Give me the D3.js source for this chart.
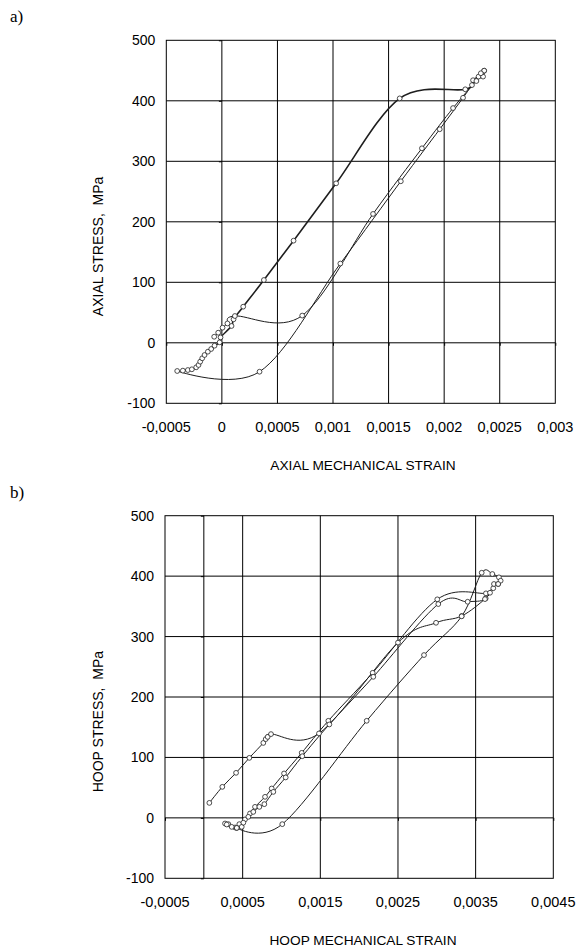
<!DOCTYPE html>
<html>
<head>
<meta charset="utf-8">
<script src="https://cdn.jsdelivr.net/npm/d3@7"></script>
<style>
  body { margin: 0; background: #fff; }
  svg { display: block; font-family: "Liberation Sans", Arial, sans-serif; }
</style>
</head>
<body>
<svg id="chart" width="583" height="950"></svg>
<script>
// ---- data (strain, stress MPa) ----
var stressTicks = [-100, 0, 100, 200, 300, 400, 500];

var axialTicksX = [-0.0005, 0, 0.0005, 0.001, 0.0015, 0.002, 0.0025, 0.003];
var axialGridX = [0, 0.0005, 0.001, 0.0015, 0.002, 0.0025];

// loading up the left branch, hold, top
var axialLoad = [
  [-0.000351, -46.0], [-0.000306, -45.0], [-0.00027, -43.8], [-0.000231, -40.5],
  [-0.00021, -36.7], [-0.000195, -31.2], [-0.000177, -25.6], [-0.000156, -20.2],
  [-0.000126, -14.7], [-0.000096, -10.2], [-0.000066, -4.8], [-0.00002, 0.8],
  [-0.000012, 9], [0.000087, 27.8], [0.000105, 38.8], [0.000192, 59.7],
  [0.000378, 103.8], [0.000645, 168.8], [0.001028, 263.6], [0.0016, 404],
  [0.00219, 419], [0.00226, 434], [0.00231, 440], [0.00236, 449.8]
];
// unloading down the right branch and back to the origin
var axialUnload = [
  [0.00236, 449.8], [0.00235, 440], [0.00229, 432.7], [0.00208, 388],
  [0.0018, 321.5], [0.00136, 213], [0.000723, 45], [0.000117, 44.3],
  [0.00005, 32], [0.000006, 25], [-0.000033, 16.7], [-0.000069, 10]
];
// compression end and reloading
var axialReload = [
  [-0.000402, -46.6], [0.000339, -47.8], [0.001066, 131], [0.00161, 267],
  [0.00196, 353], [0.00217, 405], [0.00225, 426], [0.00233, 445.5]
];

var hoopTicksX = [-0.0005, 0.0005, 0.0015, 0.0025, 0.0035, 0.0045];
var hoopGridX = [0, 0.0005, 0.0015, 0.0025, 0.0035];

var hoopStart = [
  [0.000071, 24.8], [0.000238, 51.3], [0.000415, 74.5], [0.000586, 99.3],
  [0.000766, 124], [0.000797, 130.3], [0.000822, 134], [0.000865, 138.6],
  [0.001483, 139.7], [0.0025, 290], [0.00299, 322.8], [0.00332, 334],
  [0.003629, 363.2], [0.003727, 380]
];
var hoopUpper = [
  [0.000273, -9.3], [0.000316, -10.4], [0.000402, -15.9], [0.000457, -10.4],
  [0.00053, -2.6], [0.000595, 7.3], [0.000659, 18.2], [0.000788, 34.8],
  [0.000874, 48.6], [0.001033, 73.5], [0.00126, 107.6], [0.001603, 160.6],
  [0.002174, 240], [0.003006, 361.6], [0.003633, 371.5], [0.003685, 372.5]
];
var hoopLower = [
  [0.000295, -11], [0.000359, -14.9], [0.000424, -16.6], [0.000488, -14.9],
  [0.000509, -8], [0.000573, 1.7], [0.000637, 9.9], [0.000715, 18.2],
  [0.000779, 22.7], [0.000895, 43], [0.001054, 66.9], [0.001268, 102],
  [0.001616, 154.6], [0.002182, 233.4], [0.003019, 353.8], [0.003397, 357.6],
  [0.00362, 362], [0.003736, 387], [0.00379, 387]
];
var hoopRight = [
  [0.000424, -16.6], [0.00101, -10.4], [0.002097, 160.6], [0.002835, 269.4],
  [0.00332, 333.5], [0.003578, 405.6], [0.003715, 403.5], [0.0038, 398],
  [0.003822, 392.4], [0.00379, 387]
];

var svg = d3.select("#chart");

function fmtStrain(v) {
  return String(+v.toFixed(4)).replace(".", ",");
}

function drawPanel(cfg) {
  var x = d3.scaleLinear().domain(cfg.xDomain).range([cfg.left, cfg.right]);
  var y = d3.scaleLinear().domain([-100, 500]).range([cfg.bottom, cfg.top]);
  var g = svg.append("g");

  g.append("text")
    .attr("x", 10)
    .attr("y", cfg.labelY)
    .attr("font-family", "'Liberation Serif', 'Times New Roman', serif")
    .attr("font-size", "17px")
    .text(cfg.label);

  // grid
  g.selectAll(".vgrid")
    .data(cfg.gridX)
    .enter()
    .append("line")
    .attr("x1", function (d) { return x(d); })
    .attr("x2", function (d) { return x(d); })
    .attr("y1", cfg.top)
    .attr("y2", cfg.bottom)
    .attr("stroke", "#000")
    .attr("stroke-width", 1);
  g.selectAll(".hgrid")
    .data(stressTicks.slice(1, -1))
    .enter()
    .append("line")
    .attr("x1", cfg.left)
    .attr("x2", cfg.right)
    .attr("y1", function (d) { return y(d); })
    .attr("y2", function (d) { return y(d); })
    .attr("stroke", "#000")
    .attr("stroke-width", 1);
  g.append("rect")
    .attr("x", cfg.left)
    .attr("y", cfg.top)
    .attr("width", cfg.right - cfg.left)
    .attr("height", cfg.bottom - cfg.top)
    .attr("fill", "none")
    .attr("stroke", "#000")
    .attr("stroke-width", 1);

  // small tick marks on the zero axes
  g.append("g")
    .attr("transform", "translate(0," + y(0) + ")")
    .call(d3.axisBottom(x).tickValues(cfg.ticksX).tickSize(3).tickFormat(""))
    .call(function (a) { a.select(".domain").remove(); });
  g.append("g")
    .attr("transform", "translate(" + x(0) + ",0)")
    .call(d3.axisLeft(y).tickValues(stressTicks).tickSize(3).tickFormat(""))
    .call(function (a) { a.select(".domain").remove(); });

  // tick labels
  g.selectAll(".ylab")
    .data(stressTicks)
    .enter()
    .append("text")
    .attr("x", cfg.left - 11)
    .attr("y", function (d) { return y(d) + 5; })
    .attr("text-anchor", "end")
    .attr("font-size", "14px")
    .text(function (d) { return String(d); });
  g.selectAll(".xlab")
    .data(cfg.ticksX)
    .enter()
    .append("text")
    .attr("x", function (d) { return x(d); })
    .attr("y", cfg.bottom + 29)
    .attr("text-anchor", "middle")
    .attr("font-size", "14.5px")
    .text(fmtStrain);

  // axis titles
  g.append("text")
    .attr("x", 363)
    .attr("y", cfg.bottom + 66.7)
    .attr("text-anchor", "middle")
    .attr("font-size", "13.7px")
    .text(cfg.xTitle);
  g.append("text")
    .attr("transform", "translate(103," + ((cfg.top + cfg.bottom) / 2 + 24.6) + ") rotate(-90)")
    .attr("text-anchor", "middle")
    .attr("font-size", "14px")
    .style("white-space", "pre")
    .text(cfg.yTitle);

  // curves
  var line = d3.line()
    .x(function (d) { return x(d[0]); })
    .y(function (d) { return y(d[1]); })
    .curve(d3.curveCardinal.tension(0));
  cfg.series.forEach(function (s, i) {
    g.append("path")
      .datum(s)
      .attr("d", line)
      .attr("fill", "none")
      .attr("stroke", "#1e1e1e")
      .attr("stroke-width", cfg.widths[i]);
  });
  cfg.series.forEach(function (s) {
    g.append("g")
      .selectAll("circle")
      .data(s)
      .enter()
      .append("circle")
      .attr("cx", function (d) { return x(d[0]); })
      .attr("cy", function (d) { return y(d[1]); })
      .attr("r", 2.4)
      .attr("fill", "#fff")
      .attr("stroke", "#222")
      .attr("stroke-width", 0.8);
  });
}

drawPanel({
  label: "a)",
  labelY: 22,
  left: 166.3,
  right: 555.3,
  top: 40.3,
  bottom: 403.3,
  xDomain: [-0.0005, 0.003],
  ticksX: axialTicksX,
  gridX: axialGridX,
  xTitle: "AXIAL MECHANICAL STRAIN",
  yTitle: "AXIAL STRESS,  MPa",
  series: [axialLoad, axialUnload, axialReload],
  widths: [1.6, 1, 1]
});

drawPanel({
  label: "b)",
  labelY: 498,
  left: 165,
  right: 553.3,
  top: 515.7,
  bottom: 878.3,
  xDomain: [-0.0005, 0.0045],
  ticksX: hoopTicksX,
  gridX: hoopGridX,
  xTitle: "HOOP MECHANICAL STRAIN",
  yTitle: "HOOP STRESS,  MPa",
  series: [hoopStart, hoopUpper, hoopLower, hoopRight],
  widths: [1, 1, 1, 1]
});
</script>
</body>
</html>
